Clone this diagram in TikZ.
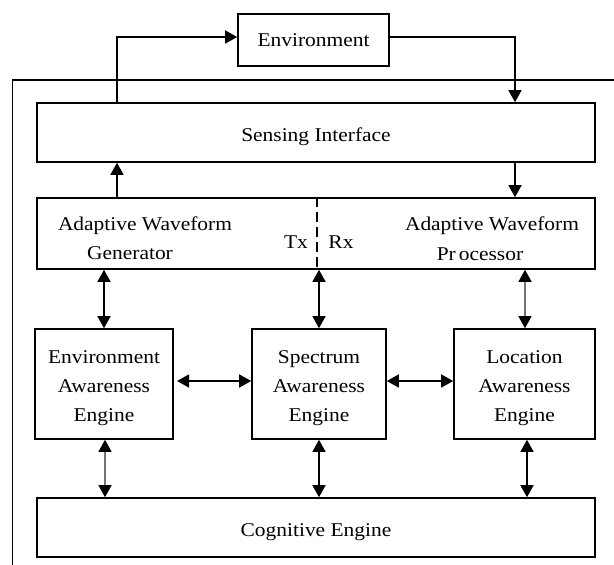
\documentclass[tikz,border=0pt]{standalone}
\usepackage{fontspec}
\setmainfont{Liberation Serif}[FakeStretch=1.1]
\usetikzlibrary{arrows.meta,calc}
\newcommand{\dnstrut}{\rule{0pt}{22pt}}
\begin{document}
\begin{tikzpicture}[x=1pt,y=-1pt,
  box/.style={draw,line width=1.6pt,inner sep=0pt,align=center},
  lbl/.style={inner sep=0pt,anchor=base},
  conn/.style={line width=1.5pt},
  thin/.style={line width=1.1pt,draw=black!55},
  tip/.style={-{Triangle[length=12pt,width=13pt,color=black]}},
  dtip/.style={{Triangle[length=12pt,width=13pt,color=black]}-{Triangle[length=12pt,width=13pt,color=black]}},
  font=\fontsize{19.5}{29}\selectfont]
\useasboundingbox (0,0) rectangle (614,565);
% outer frame
\coordinate (fbl) at (12.5,565);
\coordinate (ftl) at (12.5,80);
\coordinate (ftr) at (614,80);
\draw[line width=1.6pt] (fbl) -- (ftl) -- (ftr);
% boxes
\node[box,minimum width=151,minimum height=52] (env) at (313.5,40) {Environment};
\node[box,minimum width=558,minimum height=59] (sens) at (316,132.5) {\dnstrut Sensing Interface};
\node[box,minimum width=558,minimum height=71] (adapt) at (316,233.5) {};
\node[box,minimum width=138.5,minimum height=110] (eae) at (104,384) {\dnstrut Environment\\Awareness\\Engine};
\node[box,minimum width=134,minimum height=110] (sae) at (319,384) {\dnstrut Spectrum\\Awareness\\Engine};
\node[box,minimum width=141,minimum height=110] (lae) at (524.5,384) {\dnstrut Location\\Awareness\\Engine};
\node[box,minimum width=558,minimum height=59] (cog) at (316,527.5) {\dnstrut Cognitive Engine};
% labels inside adaptive box
\node[lbl] (awg1) at (145,230) {Adaptive Waveform};
\node[lbl] (awg2) at (130,259) {Generator};
\node[lbl] (tx) at (296,248) {Tx};
\node[lbl] (rx) at (341,248) {Rx};
\node[lbl] (awp1) at (492,230) {Adaptive Waveform};
\node[lbl] (awp2) at (480,260) {Pr\hspace{3pt}ocessor};
\draw[line width=1.3pt,dash pattern=on 10pt off 5pt] (adapt.north -| 317,0) -- (adapt.south -| 317,0);
% environment loop
\draw[conn,tip] (sens.north -| 117,0) |- ([yshift=3pt]env.west);
\draw[conn,tip] ([yshift=3pt]env.east) -| (sens.north -| 515,0);
% sensing <-> adaptive
\draw[conn,tip] (adapt.north -| 117,0) -- (sens.south -| 117,0);
\draw[conn,tip] (sens.south -| 515,0) -- (adapt.north -| 515,0);
% adaptive <-> engines
\draw[conn,dtip] (adapt.south -| 104,0) -- (eae.north -| 104,0);
\draw[conn,dtip] (adapt.south -| 319,0) -- (sae.north);
\draw[thin,dtip] (adapt.south -| 525,0) -- (lae.north -| 525,0);
% engines horizontal
\draw[conn,dtip] ([xshift=3pt,yshift=3pt]eae.east) -- ([yshift=3pt]sae.west);
\draw[conn,dtip] ([yshift=3pt]sae.east) -- ([yshift=3pt]lae.west);
% engines <-> cognitive
\draw[thin,dtip] (eae.south -| 105,0) -- (cog.north -| 105,0);
\draw[conn,dtip] (sae.south) -- (cog.north -| 319,0);
\draw[conn,dtip] (lae.south -| 527,0) -- (cog.north -| 527,0);
\end{tikzpicture}
\end{document}
